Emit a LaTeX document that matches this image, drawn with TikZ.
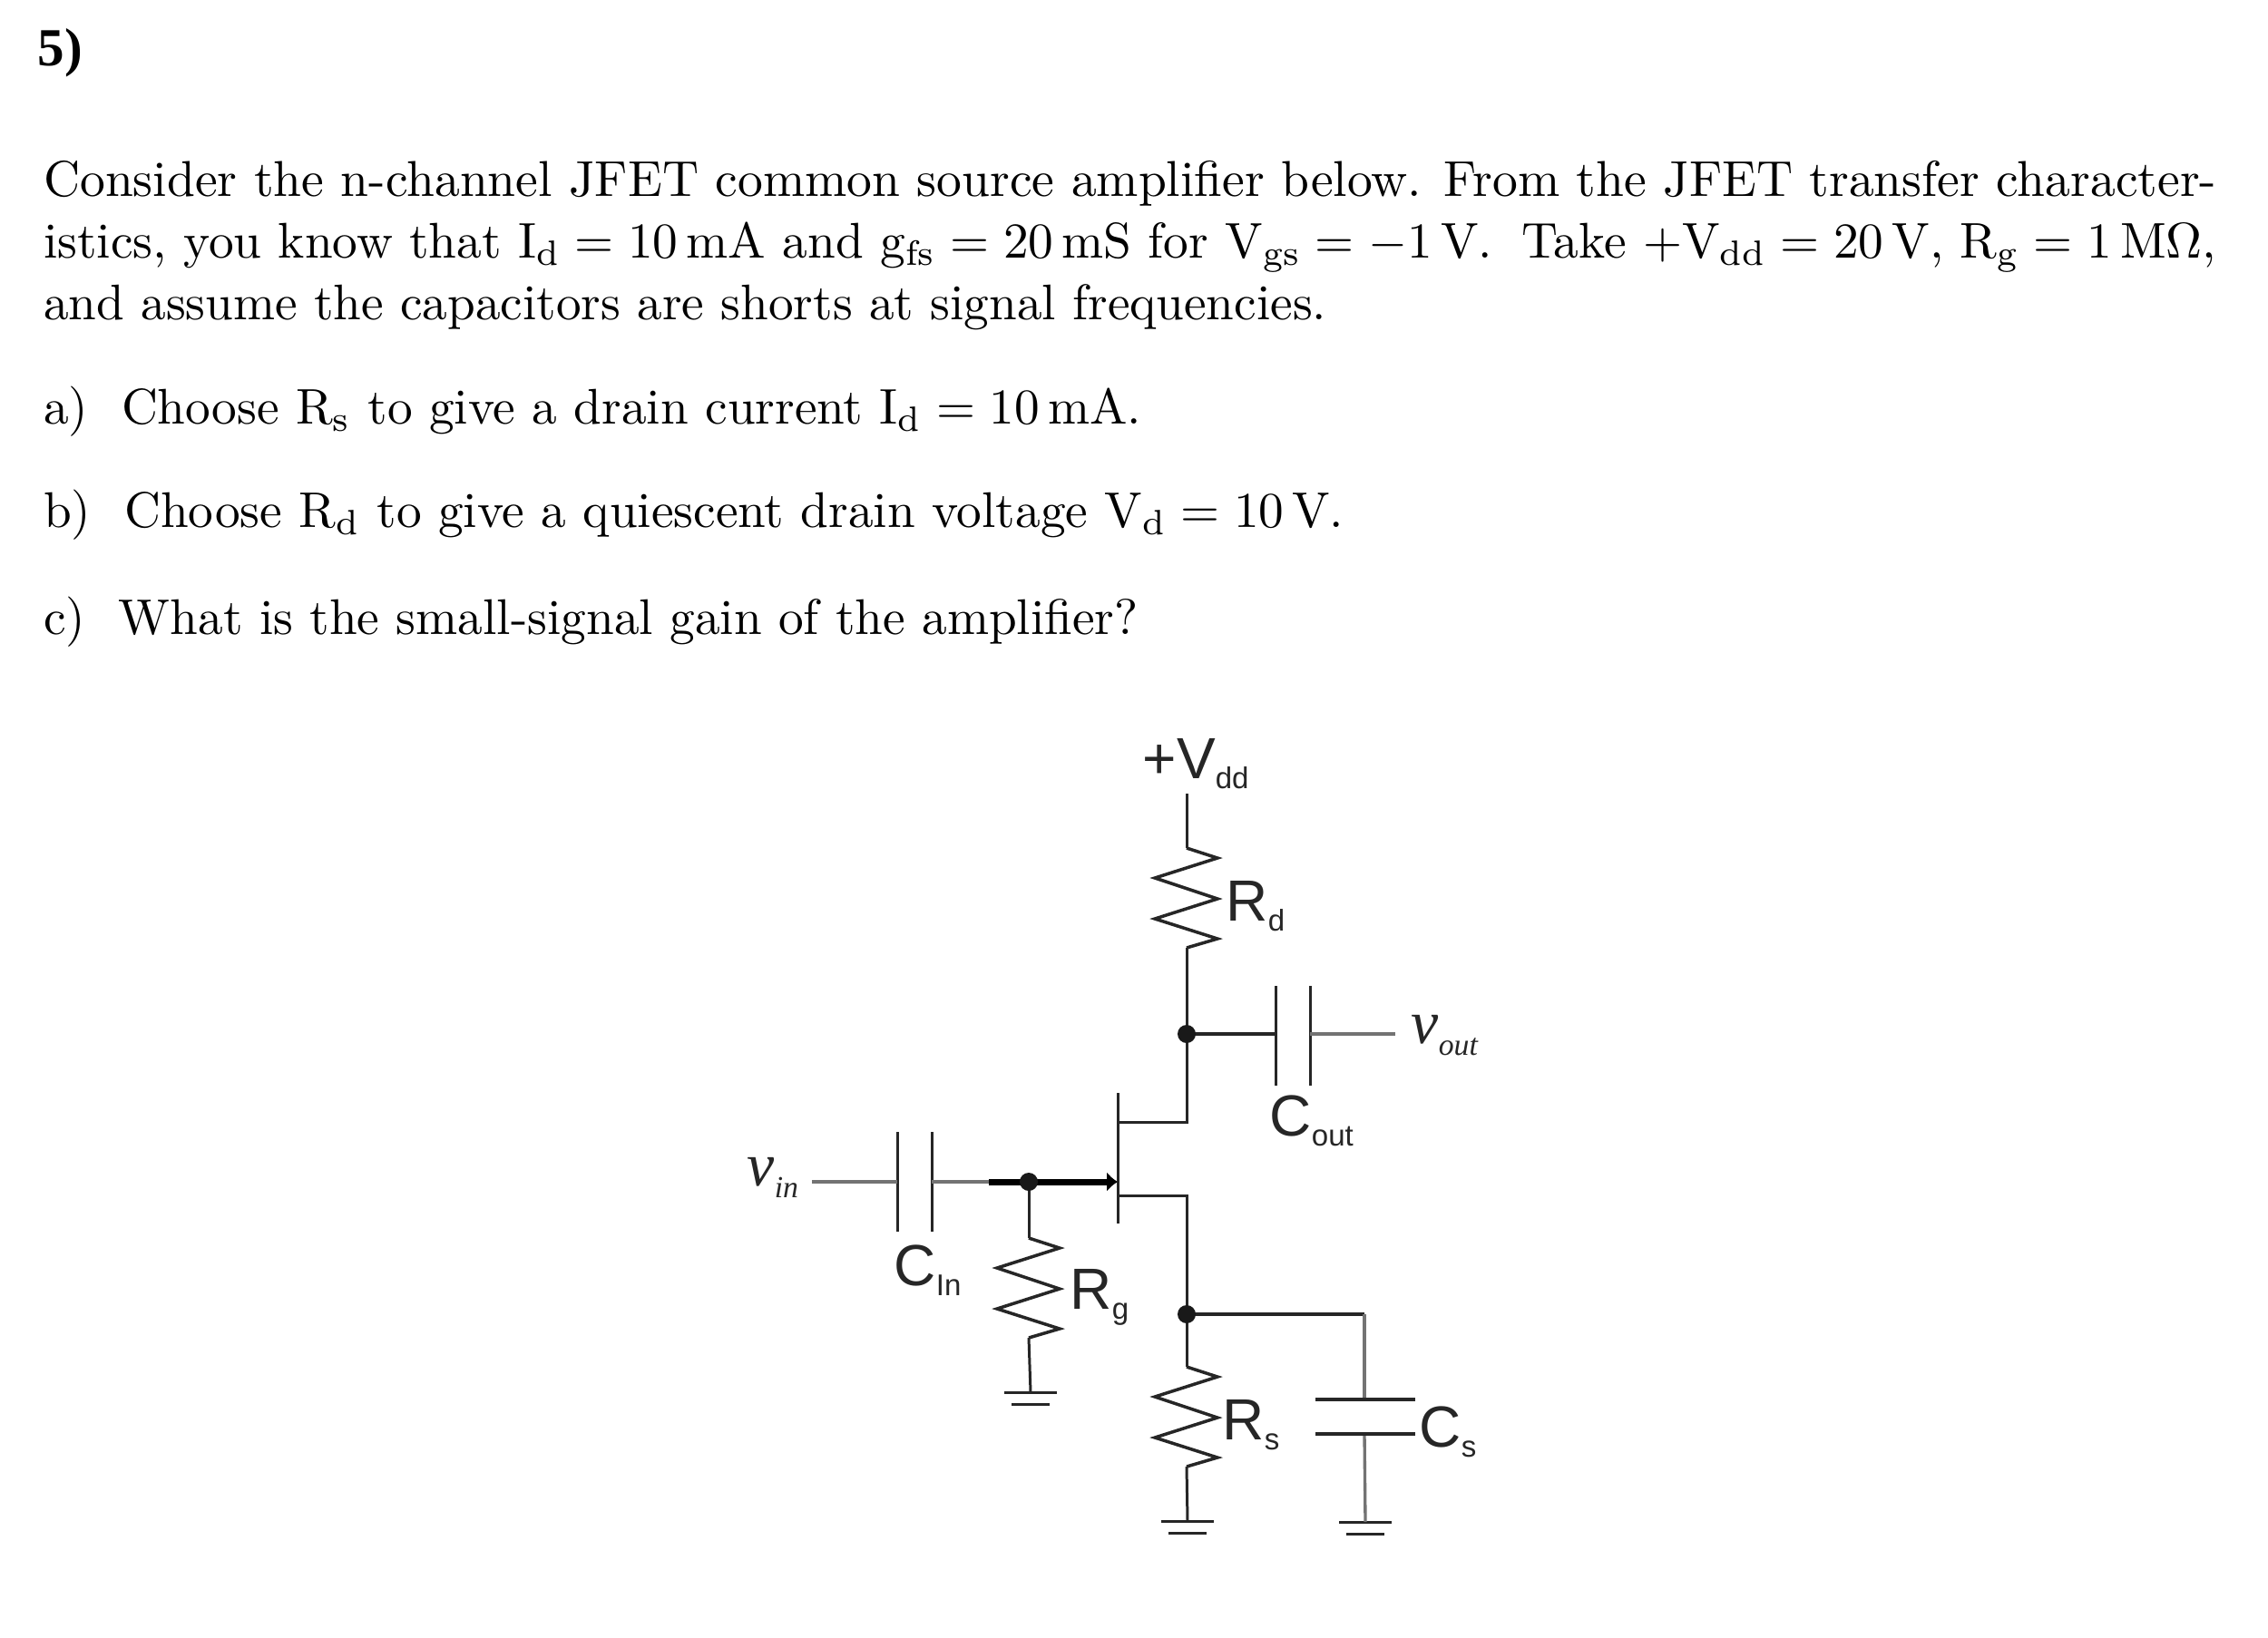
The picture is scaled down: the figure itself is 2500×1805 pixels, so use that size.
\documentclass[tikz,border=0pt]{standalone}
\usepackage{fontspec}
\newfontfamily\headfont{Liberation Serif}
\newfontfamily\labfont{Liberation Sans}
\usetikzlibrary{arrows.meta}
\newcommand{\sublab}[2]{#1\raisebox{-3.4pt}{\fontsize{9.4}{10}\selectfont #2}}
\newcommand{\sigval}[2]{{\headfont\itshape\fontsize{19.3}{20}\selectfont #1\raisebox{-3.7pt}{\fontsize{9.6}{10}\selectfont #2}}}
\newcommand{\sub}[1]{$_{\mathrm{#1}}$}
\newcommand{\eqn}{${}={}$}
\begin{document}
\begin{tikzpicture}[x=0.01cm, y=-0.01cm,
  wire/.style = {line width=0.85pt, black!85},
  softwire/.style = {line width=0.95pt, black!55},
  plate/.style = {line width=0.85pt, black!85},
  dot/.style = {circle, fill=black!90, inner sep=0pt, minimum size=0.2cm},
  line/.style = {anchor=base west, inner sep=0pt, scale=1.58},
  lab/.style = {anchor=base west, inner sep=0pt, font=\labfont\fontsize{18.2}{20}\selectfont, black!85},
  pics/zres/.style = {code={
    \draw[wire, line width=1pt] (0,0) -- (34,11) -- (-35,33) -- (34,56) -- (-35,78) -- (34,100) -- (0,110);
    \coordinate (-top) at (0,0);
    \coordinate (-bot) at (0,110);
  }},
  pics/earth/.style = {code={
    \draw[plate] (-29,0) -- (29,0);
    \draw[plate] (-21,13) -- (21,13);
    \coordinate (-tap) at (0,0);
  }}]
\useasboundingbox (0,0) rectangle (2500,1805);

\node[anchor=base west, inner sep=0pt, font=\headfont\bfseries\fontsize{16.8}{20}\selectfont] (title) at (41,72) {5)};
\node[line] (line1) at (47,216) {Consider the n-channel JFET common source amplifier below. From the JFET transfer character-};
\node[line, scale=0.996] (line2) at (47,284) {istics, you know that I\sub{d}\eqn 10\,mA and g\sub{fs}\eqn 20\,mS for V\sub{gs}\eqn$-1$\,V.\hspace{0.25em} Take $+$V\sub{dd}\eqn 20\,V, R\sub{g}\eqn 1\,M$\Omega$,};
\node[line, scale=0.994] (line3) at (47,352) {and assume the capacitors are shorts at signal frequencies.};
\node[line, scale=0.995] (parta) at (47,467) {a)\ \ Choose R\sub{s} to give a drain current I\sub{d}\eqn 10\,mA.};
\node[line, scale=0.995] (partb) at (47,581) {b)\ \ Choose R\sub{d} to give a quiescent drain voltage V\sub{d}\eqn 10\,V.};
\node[line, scale=0.995] (partc) at (47,699) {c)\ \ What is the small-signal gain of the amplifier?};

\coordinate (vddtop) at (1308,875);
\coordinate (drainnode) at (1308,1140);
\coordinate (drain) at (1308,1237);
\coordinate (source) at (1308,1318);
\coordinate (sourcenode) at (1308,1449);
\coordinate (chdrain) at (1232,1237);
\coordinate (chsource) at (1232,1318);
\coordinate (chtop) at (1232,1205);
\coordinate (chbot) at (1232,1349);
\coordinate (gate) at (1232,1303);
\coordinate (gatenode) at (1134,1303);
\coordinate (gatethick) at (1090,1303);
\coordinate (vinend) at (895,1303);
\coordinate (cinleft) at (989,1303);
\coordinate (cinright) at (1027,1303);
\coordinate (coutleft) at (1406,1140);
\coordinate (coutright) at (1444,1140);
\coordinate (voutend) at (1538,1140);
\coordinate (cscorner) at (1504,1449);
\coordinate (cstop) at (1504,1543);
\coordinate (csbot) at (1504,1581);

\pic (rd) at (1308,935) {zres};
\pic (rg) at (1134,1365) {zres};
\pic (rs) at (1308,1507) {zres};
\pic (gndg) at (1136,1535) {earth};
\pic (gnds) at (1309,1677) {earth};
\pic (gndc) at (1505,1678) {earth};

\draw[wire] (vddtop) -- (rd-top);
\draw[wire] (rd-bot) -- (drain) -- (chdrain);
\draw[wire] (chsource) -- (source) -- (rs-top);
\draw[wire] (rs-bot) -- (gnds-tap);
\draw[wire] (gatenode) -- (rg-top);
\draw[wire] (rg-bot) -- (gndg-tap);
\draw[wire, line width=1.1pt] (sourcenode) -- (cscorner);
\draw[softwire] (cscorner) -- (cstop);
\draw[softwire] (csbot) -- (gndc-tap);
\draw[plate] (chtop) -- (chbot);

\draw[plate] (1406,1087) -- (1406,1197);
\draw[plate] (1444,1087) -- (1444,1197);
\draw[plate] (989,1248) -- (989,1358);
\draw[plate] (1027,1248) -- (1027,1358);
\draw[plate, line width=1.1pt] (1450,1543) -- (1560,1543);
\draw[plate, line width=1.1pt] (1450,1581) -- (1560,1581);

\draw[wire, line width=1.1pt] (drainnode) -- (coutleft);
\draw[softwire] (coutright) -- (voutend);
\draw[softwire] (vinend) -- (cinleft);
\draw[softwire] (cinright) -- (gatethick);
\draw[line width=2pt, black, -{Latex[length=0.12cm,width=0.22cm]}] (gatethick) -- (gate);

\node[dot] (ddot) at (drainnode) {};
\node[dot] (gdot) at (gatenode) {};
\node[dot] (sdot) at (sourcenode) {};

\node[lab] (vddlab) at (1259,858) {\sublab{+V}{dd}};
\node[lab] (rdlab) at (1351,1015) {\sublab{R}{d}};
\node[lab] (coutlab) at (1399,1252) {\sublab{C}{out}};
\node[lab] (cinlab) at (985,1417) {\sublab{C}{In}};
\node[lab] (rglab) at (1179,1443) {\sublab{R}{g}};
\node[lab] (rslab) at (1347,1587) {\sublab{R}{s}};
\node[lab] (cslab) at (1564,1595) {\sublab{C}{s}};
\node[anchor=base west, inner sep=0pt, black!85] (voutlab) at (1555,1150) {\sigval{v}{out}};
\node[anchor=base west, inner sep=0pt, black!85] (vinlab) at (823,1307) {\sigval{v}{in}};
\end{tikzpicture}
\end{document}
